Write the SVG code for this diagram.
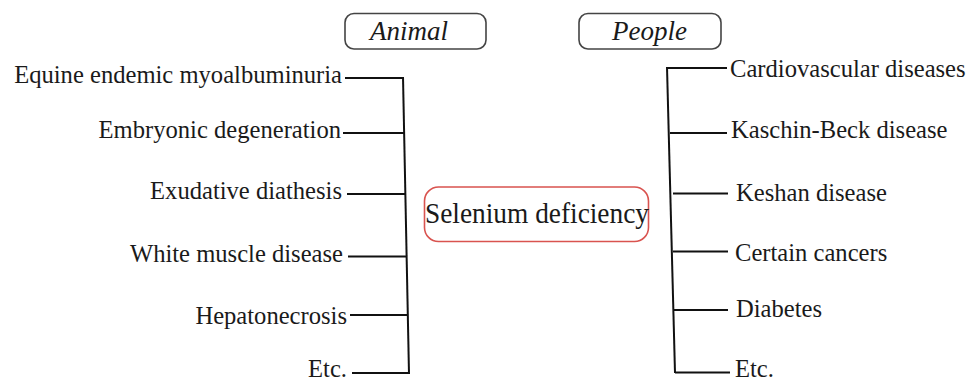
<svg xmlns="http://www.w3.org/2000/svg" width="969" height="381" viewBox="0 0 969 381">
<style>
.t{font-family:"Liberation Serif","Times New Roman",serif;font-size:24.6px;fill:#1a1a1a}
.h{font-family:"Liberation Serif","Times New Roman",serif;font-size:27px;font-style:italic;fill:#1a1a1a}
.l{stroke:#111;stroke-width:2;fill:none}
.hb{fill:#fff;stroke:#444;stroke-width:1.6}
.c{fill:#fff;stroke:#d9534f;stroke-width:1.6}
.e{text-anchor:end}
</style>
<rect width="969" height="381" fill="#fff"/>
<g id="animal"><rect class="hb" x="345" y="13.5" width="141" height="35.5" rx="9"/><text class="h" x="370" y="40">Animal</text></g>
<g id="people"><rect class="hb" x="579" y="13.5" width="142" height="35.5" rx="9"/><text class="h" x="612" y="40">People</text></g>
<g id="selenium"><rect class="c" x="424.5" y="187" width="224" height="54.5" rx="14"/><text x="425" y="223" textLength="224" lengthAdjust="spacingAndGlyphs" style="font-family:'Liberation Serif','Times New Roman',serif;font-size:29px;fill:#1a1a1a">Selenium deficiency</text></g>
<g id="a1"><text class="t e" x="342" y="83">Equine endemic myoalbuminuria</text></g>
<g id="a2"><text class="t e" x="341" y="138">Embryonic degeneration</text></g>
<g id="a3"><text class="t e" x="342" y="199">Exudative diathesis</text></g>
<g id="a4"><text class="t e" x="343" y="262">White muscle disease</text></g>
<g id="a5"><text class="t e" x="347" y="324">Hepatonecrosis</text></g>
<g id="a6"><text class="t e" x="347" y="377">Etc.</text></g>
<g id="p1"><text class="t" x="730" y="77">Cardiovascular diseases</text></g>
<g id="p2"><text class="t" x="731" y="138">Kaschin-Beck disease</text></g>
<g id="p3"><text class="t" x="736" y="201">Keshan disease</text></g>
<g id="p4"><text class="t" x="735" y="261">Certain cancers</text></g>
<g id="p5"><text class="t" x="736" y="317">Diabetes</text></g>
<g id="p6"><text class="t" x="735" y="377">Etc.</text></g>
<g id="connectors">
<path class="l" d="M403,77 L409,374"/>
<path class="l" d="M345,78H403.5M343,133H404.5M347,194H405.5M348,256.5H406.5M350,315H407.5M352,373H409"/>
<path class="l" d="M667,67 L675,373"/>
<path class="l" d="M667,68H727M670,133H727M673,193.5H728M673,251.5H728M674,310H728M675,372.5H730"/>
</g>
</svg>
